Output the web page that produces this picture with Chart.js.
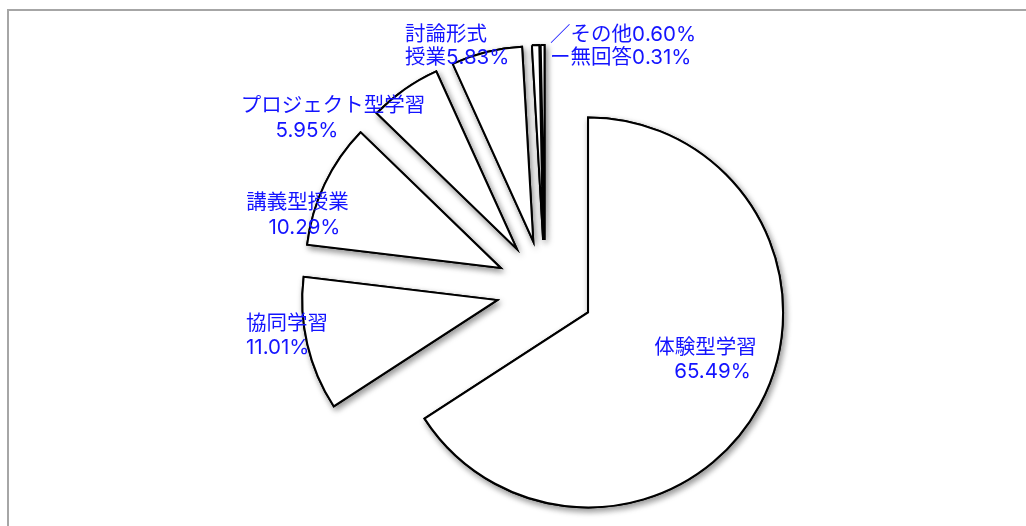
<!DOCTYPE html>
<html>
<head>
<meta charset="utf-8">
<script src="https://cdn.jsdelivr.net/npm/chart.js@4.4.1/dist/chart.umd.min.js"></script>
<style>
html,body{margin:0;padding:0;background:#fff;overflow:hidden;width:1026px;height:526px;}
#frame{position:absolute;left:7px;top:9px;width:1100px;height:600px;border-top:2px solid #a6a6a6;border-left:2px solid #a6a6a6;}
#c{position:absolute;left:0;top:0;}
</style>
</head>
<body>
<div id="frame"></div>
<canvas id="c" width="1026" height="526"></canvas>
<script>
// ---- data ----
const categories = ['体験型学習', '協同学習', '講義型授業', 'プロジェクト型学習', '討論形式授業', 'その他', '無回答'];
const values = [65.49, 11.01, 10.29, 5.95, 5.83, 0.60, 0.31];
// label text templates: {c} = category, {v} = percentage
const labelTemplates = [
  ['{c}', '{v}'],
  ['{c}', '{v}'],
  ['{c}', '{v}'],
  ['{c}', '{v}'],
  ['討論形式', '授業{v}'],
  ['／{c}{v}'],
  ['ー{c}{v}']
];

// ---- layout / style (not data) ----
const EXPLODE = 49;     // px each slice is pulled out
const RADIUS = 195;
const labelFont = '20.5px "Inter", "Noto Sans CJK JP", sans-serif';
const labelColor = '#1414ff';
// label line anchors relative to the pie centre
const labelLayout = [
  [{dx: 160.5, dy: 65, a: 'center'}, {dx: 167.5, dy: 88.5, a: 'center'}],
  [{dx: -299, dy: 41, a: 'left'}, {dx: -299, dy: 64.5, a: 'left'}],
  [{dx: -247.5, dy: -80, a: 'center'}, {dx: -240.5, dy: -55, a: 'center'}],
  [{dx: -212, dy: -177.5, a: 'center'}, {dx: -238, dy: -152.5, a: 'center'}],
  [{dx: -140, dy: -248.5, a: 'left'}, {dx: -140, dy: -225, a: 'left'}],
  [{dx: 5, dy: -248, a: 'left'}],
  [{dx: 5, dy: -225, a: 'left'}]
];

const fmt = v => v.toFixed(2) + '%';

const explodePlugin = {
  id: 'explode',
  beforeDatasetDraw(chart, args) {
    const ctx = chart.ctx;
    const arcs = args.meta.data;
    const drawAll = () => {
      arcs.forEach(a => {
        const m = (a.startAngle + a.endAngle) / 2;
        ctx.save();
        ctx.translate(Math.cos(m) * EXPLODE, Math.sin(m) * EXPLODE);
        a.draw(ctx);
        ctx.restore();
      });
    };
    ctx.save();
    ctx.shadowColor = 'rgba(0,0,0,0.42)';
    ctx.shadowBlur = 6;
    ctx.shadowOffsetX = 2;
    ctx.shadowOffsetY = 3;
    drawAll();
    ctx.restore();
    drawAll();
    return false;
  }
};

const labelPlugin = {
  id: 'sliceLabels',
  afterDraw(chart) {
    const ctx = chart.ctx;
    const ca = chart.chartArea;
    const cx = (ca.left + ca.right) / 2;
    const cy = (ca.top + ca.bottom) / 2;
    ctx.save();
    ctx.font = labelFont;
    ctx.fillStyle = labelColor;
    ctx.textBaseline = 'alphabetic';
    labelTemplates.forEach((lines, i) => {
      lines.forEach((t, j) => {
        const txt = t.replace('{c}', categories[i]).replace('{v}', fmt(values[i]));
        const p = labelLayout[i][j];
        ctx.textAlign = p.a;
        ctx.fillText(txt, cx + p.dx, cy + p.dy);
      });
    });
    ctx.restore();
  }
};

new Chart(document.getElementById('c'), {
  type: 'pie',
  data: {
    labels: categories,
    datasets: [{
      data: values,
      backgroundColor: '#ffffff',
      borderColor: '#000000',
      borderWidth: 2,
      borderJoinStyle: 'miter',
      radius: RADIUS,
      offset: 0,
      hoverOffset: 0
    }]
  },
  options: {
    responsive: false,
    animation: false,
    events: [],
    layout: {padding: {left: 64, right: 0, top: 52, bottom: 0}},
    plugins: {
      legend: {display: false},
      tooltip: {enabled: false},
      title: {display: false}
    }
  },
  plugins: [explodePlugin, labelPlugin]
});
</script>
</body>
</html>
